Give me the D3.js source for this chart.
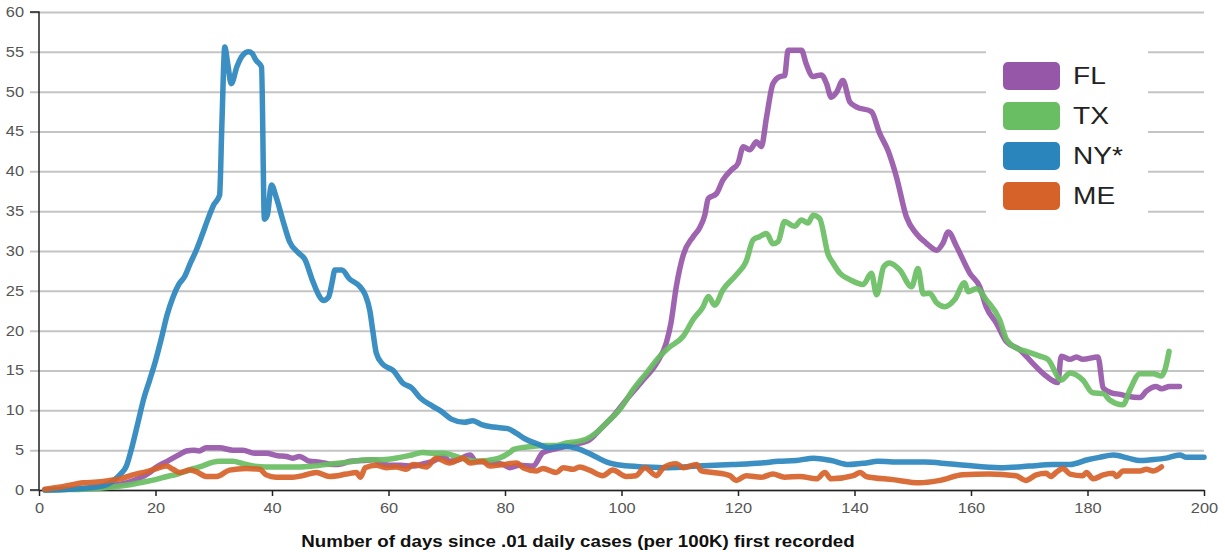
<!DOCTYPE html>
<head>
<meta charset="utf-8">
<script src="https://d3js.org/d3.v7.min.js"></script>
<style>
body { margin: 0; background: #fff; }
text { font-family: "Liberation Sans", Arial, sans-serif; }
</style>
</head>
<body>
<script>

// states, legend order
var states = ["FL", "TX", "NY*", "ME"];
var colours = ["#9757a9", "#69bd63", "#2a85bd", "#d6622a"];
var xTicks = [0, 20, 40, 60, 80, 100, 120, 140, 160, 180, 200];
var yTicks = [0, 5, 10, 15, 20, 25, 30, 35, 40, 45, 50, 55, 60];

// [day, cases per 100K]
var FL = [[1,0],[5,0.1],[10,0.3],[13,0.6],[15,0.9],[17,1.4],[19,2.2],[20,2.8],[22,3.6],[24,4.4],[25.3,4.9],[26.5,5.0],[27.5,4.9],[28.7,5.3],[31,5.3],[33.3,5.0],[35,5.0],[37,4.6],[39,4.6],[41,4.3],[42.5,4.2],[43.5,4.0],[44.7,4.2],[46.5,3.6],[48.2,3.5],[50.5,3.2],[52,3.3],[53.4,3.6],[55.6,3.7],[57.5,3.8],[58.5,3.4],[60.2,3.1],[62,3.1],[64.2,3.0],[66,3.3],[67.6,3.6],[69.4,4.2],[70.5,3.6],[72,3.8],[74,4.4],[75,3.6],[77,3.5],[79.7,3.2],[80.8,2.8],[82.5,3.1],[84.8,3.0],[86.5,4.7],[88.8,5.2],[91.7,5.7],[94.5,6.3],[96.3,7.6],[98.5,9.2],[100.8,11.3],[103.7,13.8],[106,15.9],[107.7,18.5],[108.5,21],[109.4,25.5],[110.6,29.5],[112.3,31.8],[113.4,32.9],[114.3,34.5],[114.9,36.6],[116.3,37.2],[117.4,38.9],[118.9,40.2],[120,41],[120.9,43.1],[122,42.7],[123.2,43.7],[124,43.1],[124.9,46.8],[126,51],[127.2,51.9],[128,52],[128.6,55.2],[130.9,55.2],[131.7,53.5],[132.9,51.9],[134.3,52.1],[135.2,51],[136,49.3],[136.9,49.9],[138,51.4],[139.2,48.7],[140.3,48.1],[142.9,47.5],[144.3,44.8],[145.7,42.7],[147.2,39.3],[148.9,34.3],[150.6,32.2],[152.3,31],[154.1,30.1],[155.2,31],[156.1,32.4],[157.5,30.6],[159.8,27.2],[161.5,25.5],[162.6,23],[164.4,20.9],[166.1,18.6],[168.4,17.6],[170.6,15.9],[172.9,14.3],[174.9,13.5],[175.5,16.8],[177,16.4],[178.1,16.7],[179.2,16.4],[181.8,16.7],[182.7,12.8],[184.1,12.2],[185.6,12],[186.7,11.8],[189,11.6],[190.1,12.4],[191.8,13],[192.7,12.7],[194.1,13],[195.8,13]];

var TX = [[1,0],[5,0.05],[10,0.2],[13,0.4],[15,0.6],[18,1.0],[20,1.3],[22,1.7],[23.8,2.0],[25,2.3],[26.6,2.7],[28,3.0],[29.9,3.5],[31,3.6],[33.3,3.6],[35,3.3],[37,3.0],[39,2.9],[42,2.9],[44.7,2.9],[47,3.0],[50.5,3.3],[53,3.5],[56.5,3.8],[59,3.8],[62,4.1],[64,4.4],[65.9,4.7],[68,4.6],[69.4,4.6],[71.7,4.2],[73,3.9],[75.1,3.6],[77,3.7],[79,4.0],[80.8,4.7],[81.5,5.1],[83.7,5.4],[86.5,5.6],[88.8,5.6],[90.5,5.9],[92.5,6.1],[94,6.4],[95.7,7.2],[97.4,8.4],[99.7,10.1],[102,12.6],[104.3,14.7],[106.6,16.8],[108,17.8],[110.6,19.3],[112.3,21.4],[114,23],[114.9,24.3],[116,23.2],[117.4,25.1],[119.7,27],[121.4,28.7],[122.6,31.4],[123.7,31.8],[124.9,32.2],[126,30.9],[126.9,31.2],[128,33.7],[129.7,33.1],[130.9,33.9],[132,33.5],[132.9,34.5],[134,34.1],[135.5,29.5],[136.3,28.5],[137.5,27.2],[139.2,26.4],[141.5,25.8],[142.9,27.2],[143.8,24.5],[145,28],[146,28.5],[147.8,27.6],[149.8,25.5],[150.9,27.8],[151.8,24.6],[152.9,24.7],[154.1,23.5],[155.5,23],[157.2,23.9],[158.9,26],[159.5,24.9],[161,25.3],[162.6,23.9],[164.9,21.4],[166.1,18.9],[167.8,17.8],[169.5,17.4],[171.8,16.8],[173.2,16.4],[175.5,13.8],[177,14.7],[179.2,13.8],[180.9,12.2],[182.7,12.1],[183.8,11.3],[186.1,10.7],[187.3,12.6],[189,14.6],[191.3,14.6],[192.7,14.3],[193.3,15.1],[194,17.4]];

var NY = [[1,0],[5,0.1],[10,0.4],[12,0.8],[13,1.3],[14,2.0],[15,3.0],[16,5.5],[17,8.5],[18,11.5],[19,13.8],[20,16.2],[21,19],[22,22],[23,24.2],[24,25.8],[25,26.8],[26,28.5],[27,30.1],[28,32],[29,34],[30,35.8],[31,37],[31.4,46],[31.9,55.6],[32.4,53.5],[33,51],[34,53.2],[35,54.6],[36,55],[36.6,54.8],[37.2,54],[38.2,53.1],[38.7,34],[39.2,34.5],[39.9,38.3],[40.7,36.8],[42,33.5],[43,31.2],[44.5,29.8],[45.6,29],[47,26.2],[48,24.5],[48.8,23.8],[49.7,24.2],[50.3,26],[50.8,27.6],[52,27.6],[53.3,26.5],[55,25.6],[56,24.5],[56.8,22.5],[57.3,20],[57.9,17.2],[59,15.8],[60.8,15],[62.5,13.4],[64,12.8],[65.4,11.6],[67.6,10.5],[69,9.9],[70.8,8.9],[73,8.5],[74.5,8.7],[76,8.2],[78,7.9],[80.5,7.7],[82,7.1],[83.5,6.4],[85.5,5.8],[87.5,5.3],[90,5.5],[92.5,5.2],[95,4.4],[97.5,3.5],[100,3.1],[104,2.9],[108,2.8],[113,3.0],[119,3.2],[124,3.4],[127,3.6],[130,3.7],[133,4.0],[136,3.7],[139,3.2],[142,3.4],[144,3.6],[148,3.5],[152,3.5],[156,3.3],[159,3.1],[165,2.8],[170,3.0],[174,3.2],[177,3.2],[180,3.8],[182,4.1],[184.5,4.4],[187,4.0],[189,3.7],[191,3.8],[193.5,4.0],[195.8,4.4],[197,4.1],[200,4.1]];

var ME = [[1,0.1],[4,0.4],[7.6,0.9],[10,1.0],[12.1,1.2],[14,1.4],[16.1,1.9],[18.5,2.3],[20.2,2.7],[21.9,3.0],[23,2.6],[24.2,2.2],[25.9,2.5],[27,2.3],[28.7,1.7],[30.5,1.7],[32.7,2.5],[35.6,2.7],[37.9,2.6],[39,1.9],[40.7,1.6],[43.6,1.6],[45.3,1.8],[47.6,2.2],[49.9,1.7],[52.8,2.0],[54.5,2.2],[55.2,1.6],[56,2.8],[57.9,3.1],[59.6,2.8],[61.3,2.9],[63.1,2.6],[64.2,3.2],[66.5,2.9],[68.2,4.0],[70.5,3.4],[72.8,4.0],[74,3.4],[76.2,3.6],[77.4,3.0],[79.7,3.2],[82,3.4],[83.1,2.8],[85.4,2.4],[86.5,2.7],[88.8,2.2],[90,2.8],[91.7,2.6],[92.8,2.9],[94.5,2.5],[96.8,1.8],[98.5,2.5],[100.8,1.7],[102.5,1.8],[104,2.8],[106,1.8],[107.2,2.8],[109.4,3.3],[110.6,2.8],[112.9,3.2],[113.7,2.4],[115.7,2.2],[118.6,1.8],[119.7,1.2],[121.4,1.8],[124,1.6],[126,2.0],[128,1.6],[130.6,1.7],[133.5,1.4],[134.9,2.2],[136,1.4],[139.8,1.8],[141,2.2],[142,1.7],[146.6,1.3],[151.2,0.9],[154.6,1.2],[158.6,1.9],[163.1,2.0],[167.7,1.8],[169.4,1.2],[171.2,1.9],[172.9,2.1],[173.7,1.7],[174.6,2.2],[175.8,2.7],[177,2.0],[179.2,1.8],[179.8,2.2],[181,1.4],[182.7,1.9],[184.4,2.1],[185,1.7],[186.1,2.4],[189,2.4],[190.1,2.6],[191.3,2.4],[192.7,2.9]];

var series = [FL, TX, NY, ME];

// the original image is a bit wider than tall, text looks stretched sideways
var stretch = 1.17;

var margin = {top: 12, right: 21, bottom: 62, left: 39}
    , width = 1225 - margin.left - margin.right
    , height = 552 - margin.top - margin.bottom;

var svg = d3.select("body").append("svg")
    .attr("width", 1225)
    .attr("height", 552)
  .append("g")
    .attr("transform", "translate(" + margin.left + "," + margin.top + ")");

var x = d3.scaleLinear().domain([0, 200]).range([0, width]);
var y = d3.scaleLinear().domain([0, 60]).range([height, 0]);

// horizontal grid
svg.append("g")
    .attr("class", "grid")
    .call(d3.axisLeft(y).tickValues(yTicks).tickSize(-(width + 9)).tickFormat(""))
    .attr("transform", "translate(-9,0)")
    .call(g => g.select(".domain").remove())
    .selectAll("line")
    .attr("stroke", "#c4c4c4")
    .attr("stroke-width", 2);

// y axis
var yAxis = svg.append("g")
    .call(d3.axisLeft(y).tickValues(yTicks).tickSize(9).tickPadding(6))
yAxis.selectAll(".tick line").remove();
yAxis.select(".domain").attr("stroke", "#222").attr("stroke-width", 1.5)
    .attr("d", "M-9," + y(60) + "H0V" + y(0) + "H-9");
yAxis.selectAll("text")
    .attr("x", -15 / stretch)
    .attr("transform", "scale(" + stretch + ",1)")
    .style("font-size", "14px")
    .attr("fill", "#555");

// x axis
var xAxis = svg.append("g")
    .attr("transform", "translate(0," + height + ")")
    .call(d3.axisBottom(x).tickValues(xTicks).tickSize(6).tickSizeOuter(0).tickPadding(7));
xAxis.select(".domain").attr("stroke", "#222").attr("stroke-width", 1.5);
xAxis.selectAll(".tick line").attr("stroke", "#222").attr("stroke-width", 1.5);
xAxis.selectAll("text")
    .attr("transform", "scale(" + stretch + ",1)")
    .style("font-size", "14px")
    .attr("fill", "#555");

// lines
var line = d3.line()
    .x(d => x(d[0]))
    .y(d => y(d[1]))
    .curve(d3.curveMonotoneX);

svg.selectAll(".state")
    .data(series)
    .enter()
    .append("path")
        .attr("class", "state")
        .attr("d", line)
        .attr("fill", "none")
        .attr("stroke", (d, i) => colours[i])
        .attr("stroke-width", 5.5)
        .attr("stroke-linejoin", "round")
        .attr("stroke-linecap", "round")
        .attr("opacity", 0.92);

// axis title
svg.append("text")
    .attr("transform", "translate(" + (578 - margin.left) + "," + (height + 57) + ") scale(" + stretch + ",1)")
    .attr("text-anchor", "middle")
    .style("font-size", "16px")
    .style("font-weight", "bold")
    .attr("fill", "#111")
    .text("Number of days since .01 daily cases (per 100K) first recorded");

// Legend
var lg = svg.append("g")
    .attr("transform", "translate(" + (986 - margin.left) + "," + (44 - margin.top) + ")");
lg.append("rect")
    .attr("width", 162)
    .attr("height", 176)
    .attr("fill", "#fff");
lg.selectAll("rect.key")
    .data(states)
    .enter()
    .append("rect")
        .attr("class", "key")
        .attr("x", 17)
        .attr("y", (d, i) => 18 + i * 40)
        .attr("width", 57)
        .attr("height", 28)
        .attr("rx", 5)
        .attr("fill", (d, i) => colours[i]);
lg.selectAll("text")
    .data(states)
    .enter()
    .append("text")
        .attr("transform", (d, i) => "translate(87," + (40 + i * 40) + ") scale(" + stretch + ",1)")
        .style("font-size", "24px")
        .attr("fill", "#222")
        .text(d => d);

</script>
</body>
</html>
